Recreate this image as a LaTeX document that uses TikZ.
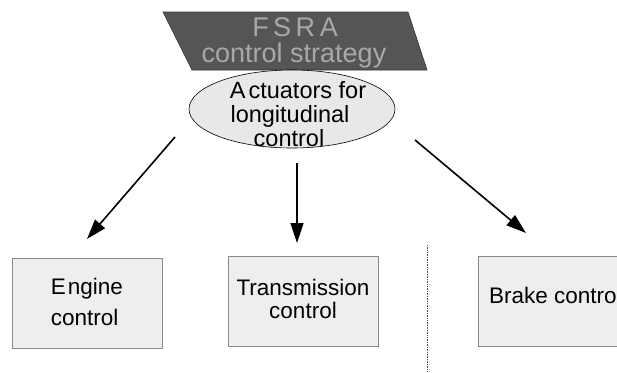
\documentclass[tikz,border=0pt]{standalone}
\usepackage{fontspec}
\setmainfont{Liberation Sans}
\usetikzlibrary{arrows.meta,shapes.geometric}
\definecolor{topfill}{HTML}{555555}
\definecolor{toptext}{HTML}{A8A8A8}
\definecolor{ellfill}{HTML}{E8E8E8}
\definecolor{boxfill}{HTML}{EEEEEE}
\definecolor{boxline}{HTML}{888888}
\tikzset{
  ctrlbox/.style={draw=boxline, line width=0.9pt, fill=boxfill},
  arr/.style={line width=1.6pt, -{Triangle[length=20pt,width=13pt]}},
  lbl/.style={font=\fontsize{22.5}{23.5}\selectfont, inner sep=0pt, align=center},
  elbl/.style={font=\fontsize{23.5}{25}\selectfont, inner sep=0pt, text height=16.5pt, text depth=4pt},
  toplbl/.style={font=\fontsize{27}{29}\selectfont, inner sep=0pt, text=toptext},
}
\begin{document}
\begin{tikzpicture}[x=1pt,y=-1pt]
\useasboundingbox (0,0) rectangle (617,372);
% top parallelogram
\path[fill=topfill, draw=black!80, line width=0.6pt] (163,12) -- (408,12) -- (427,70) -- (192,70) -- cycle;
\node[toplbl] (fsra) at (295,27) {F\,S\,R\,A};
\node[toplbl] (strat) at (294,56) {control strategy};
% ellipse
\node[draw=black, line width=0.6pt, fill=ellfill, ellipse, minimum width=206pt, minimum height=78pt, inner sep=0pt] (act) at (292,109) {};
\node[elbl] (a1) at (298,92) {A\kern3pt ctuators for};
\node[elbl] (a2) at (290,116) {longitudinal};
\node[elbl] (a3) at (289,140) {control};
% boxes
\node[ctrlbox, minimum width=150pt, minimum height=90pt, inner sep=0pt] (eng) at (87,303) {};
\node[lbl, align=left] (engt) at (87,302) {E\kern2pt ngine\\[7pt]control};
\node[ctrlbox, minimum width=150pt, minimum height=90pt, inner sep=0pt] (trans) at (303,301) {};
\node[lbl] (transt) at (303,299) {Transmission\\control};
\node[ctrlbox, minimum width=160pt, minimum height=90pt, inner sep=0pt, anchor=west] (brake) at (478,301) {};
\node[lbl, anchor=west] (braket) at (489,295) {Brake control};
\useasboundingbox (0,0) rectangle (617,372);
% dotted separator
\coordinate (d1) at (427,245);
\coordinate (d2) at (427,372);
\draw[densely dotted, line width=0.7pt, black!70] (d1) -- (d2);
% arrows
\coordinate (s1) at (175,137);
\coordinate (e1) at (87,239);
\coordinate (s2) at (297,163);
\coordinate (e2) at (297,243);
\coordinate (s3) at (415,140);
\coordinate (e3) at (526,233);
\draw[arr] (s1) -- (e1);
\draw[arr] (s2) -- (e2);
\draw[arr] (s3) -- (e3);
\end{tikzpicture}
\end{document}
